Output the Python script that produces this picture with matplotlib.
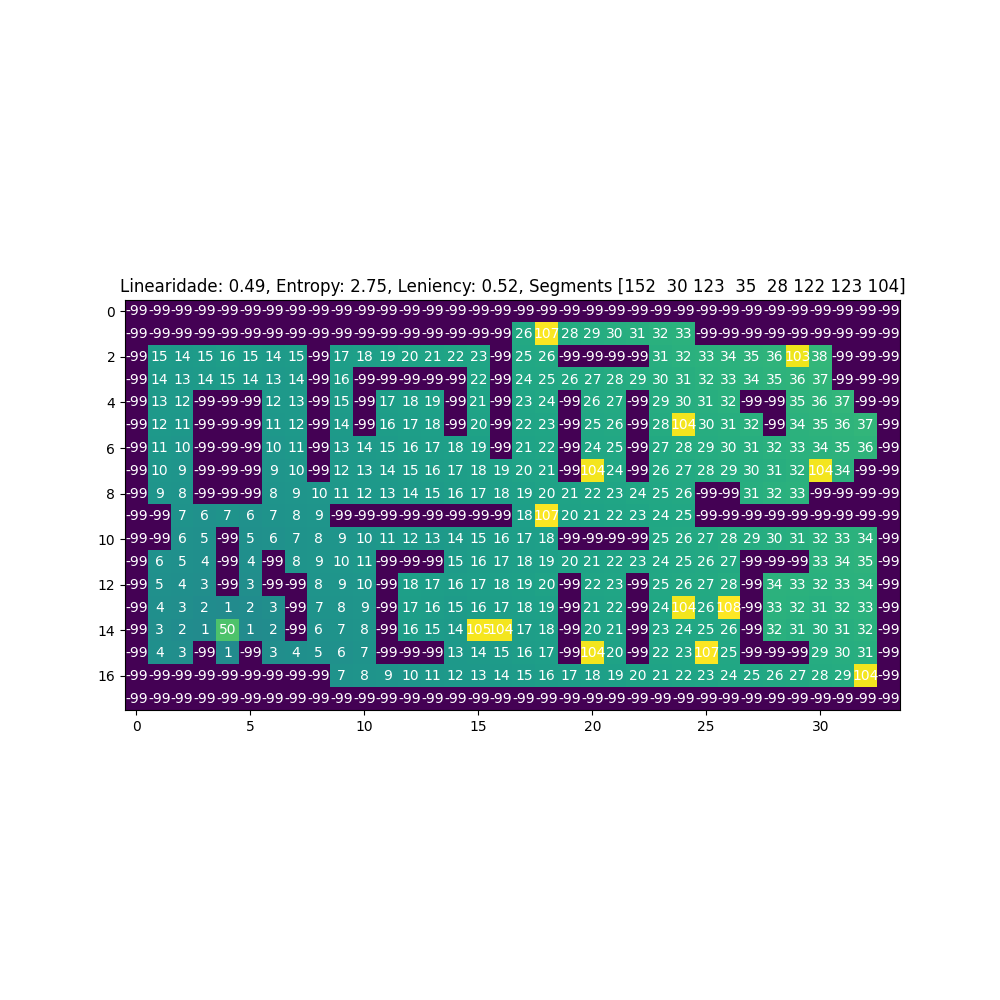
import numpy as np
import matplotlib
matplotlib.use("Agg")
import matplotlib.pyplot as plt

# level grid values (-99 = wall)
W = -99
grid = [
    [W]*34,
    [W]*17 + [26, 107, 28, 29, 30, 31, 32, 33] + [W]*9,
    [W, 15, 14, 15, 16, 15, 14, 15, W, 17, 18, 19, 20, 21, 22, 23, W, 25, 26, W, W, W, W, 31, 32, 33, 34, 35, 36, 103, 38, W, W, W],
    [W, 14, 13, 14, 15, 14, 13, 14, W, 16, W, W, W, W, W, 22, W, 24, 25, 26, 27, 28, 29, 30, 31, 32, 33, 34, 35, 36, 37, W, W, W],
    [W, 13, 12, W, W, W, 12, 13, W, 15, W, 17, 18, 19, W, 21, W, 23, 24, W, 26, 27, W, 29, 30, 31, 32, W, W, 35, 36, 37, W, W],
    [W, 12, 11, W, W, W, 11, 12, W, 14, W, 16, 17, 18, W, 20, W, 22, 23, W, 25, 26, W, 28, 104, 30, 31, 32, W, 34, 35, 36, 37, W],
    [W, 11, 10, W, W, W, 10, 11, W, 13, 14, 15, 16, 17, 18, 19, W, 21, 22, W, 24, 25, W, 27, 28, 29, 30, 31, 32, 33, 34, 35, 36, W],
    [W, 10, 9, W, W, W, 9, 10, W, 12, 13, 14, 15, 16, 17, 18, 19, 20, 21, W, 104, 24, W, 26, 27, 28, 29, 30, 31, 32, 104, 34, W, W],
    [W, 9, 8, W, W, W, 8, 9, 10, 11, 12, 13, 14, 15, 16, 17, 18, 19, 20, 21, 22, 23, 24, 25, 26, W, W, 31, 32, 33, W, W, W, W],
    [W, W, 7, 6, 7, 6, 7, 8, 9, W, W, W, W, W, W, W, W, 18, 107, 20, 21, 22, 23, 24, 25, W, W, W, W, W, W, W, W, W],
    [W, W, 6, 5, W, 5, 6, 7, 8, 9, 10, 11, 12, 13, 14, 15, 16, 17, 18, W, W, W, W, 25, 26, 27, 28, 29, 30, 31, 32, 33, 34, W],
    [W, 6, 5, 4, W, 4, W, 8, 9, 10, 11, W, W, W, 15, 16, 17, 18, 19, 20, 21, 22, 23, 24, 25, 26, 27, W, W, W, 33, 34, 35, W],
    [W, 5, 4, 3, W, 3, W, W, 8, 9, 10, W, 18, 17, 16, 17, 18, 19, 20, W, 22, 23, W, 25, 26, 27, 28, W, 34, 33, 32, 33, 34, W],
    [W, 4, 3, 2, 1, 2, 3, W, 7, 8, 9, W, 17, 16, 15, 16, 17, 18, 19, W, 21, 22, W, 24, 104, 26, 108, W, 33, 32, 31, 32, 33, W],
    [W, 3, 2, 1, 50, 1, 2, W, 6, 7, 8, W, 16, 15, 14, 105, 104, 17, 18, W, 20, 21, W, 23, 24, 25, 26, W, 32, 31, 30, 31, 32, W],
    [W, 4, 3, W, 1, W, 3, 4, 5, 6, 7, W, W, W, 13, 14, 15, 16, 17, W, 104, 20, W, 22, 23, 107, 25, W, W, W, 29, 30, 31, W],
    [W]*9 + [7, 8, 9, 10, 11, 12, 13, 14, 15, 16, 17, 18, 19, 20, 21, 22, 23, 24, 25, 26, 27, 28, 29, 104, W],
    [W]*34,
]
segments = np.array([152, 30, 123, 35, 28, 122, 123, 104])
linearity = 0.49
entropy = 2.75
leniency = 0.52

data = np.array(grid)

fig, ax = plt.subplots(figsize=(10, 10), dpi=100)
ax.imshow(data, cmap='viridis')
for i in range(data.shape[0]):
    for j in range(data.shape[1]):
        ax.text(j, i, str(data[i, j]), ha='center', va='center', color='w')
ax.set_title(f"Linearidade: {linearity:.2f}, Entropy: {entropy:.2f}, Leniency: {leniency:.2f}, Segments {segments}")
plt.savefig('out.png')
